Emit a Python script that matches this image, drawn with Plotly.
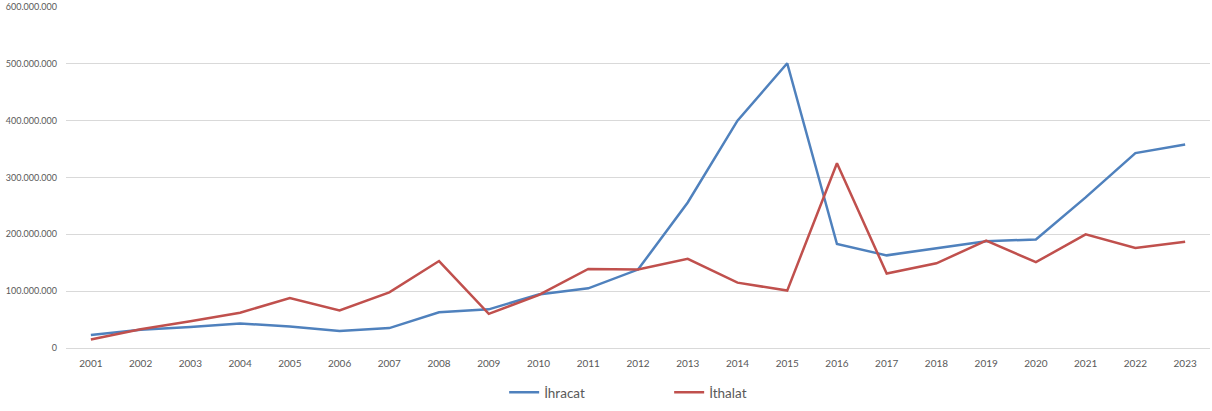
import plotly.graph_objects as go

years = [str(y) for y in range(2001, 2024)]
ihracat = [23e6, 32e6, 37e6, 43e6, 38e6, 30e6, 35e6, 63e6, 68e6, 94e6, 105e6, 138e6,
           256e6, 400e6, 501e6, 183e6, 163e6, 175e6, 188e6, 191e6, 265e6, 343e6, 358e6]
ithalat = [15e6, 33e6, 47e6, 62e6, 88e6, 66e6, 98e6, 153e6, 60e6, 93e6, 139e6, 138e6,
           157e6, 115e6, 101e6, 325e6, 131e6, 149e6, 189e6, 151e6, 200e6, 176e6, 187e6]
y_ticks = [0, 100e6, 200e6, 300e6, 400e6, 500e6, 600e6]

font_family = "Lato, Open Sans, sans-serif"

fig = go.Figure()
fig.add_trace(go.Scatter(x=years, y=ihracat, mode="lines", name="İhracat",
                         line=dict(color="#4F81BD", width=2.5)))
fig.add_trace(go.Scatter(x=years, y=ithalat, mode="lines", name="İthalat",
                         line=dict(color="#C0504D", width=2.5)))

fig.update_layout(
    width=1212, height=411,
    margin=dict(l=66, r=2, t=7, b=63, autoexpand=False),
    paper_bgcolor="white", plot_bgcolor="white",
    separators=",.",
    font=dict(family=font_family, color="#595959", size=10),
    showlegend=True,
    legend=dict(orientation="h", x=0.383, xanchor="left", y=-0.085, yanchor="top",
                font=dict(size=13.5, color="#595959"), entrywidth=120,
                itemwidth=30),
    xaxis=dict(type="category", range=[-0.5, 22.5], showgrid=False,
               showline=True, linecolor="#D9D9D9", linewidth=1, automargin=False,
               ticks="", tickfont=dict(size=10, color="#595959"),
               ticklabelstandoff=6, fixedrange=True),
    yaxis=dict(range=[0, 600e6], tickvals=y_ticks, tickformat=",d", automargin=False,
               showgrid=True, gridcolor="#D9D9D9", gridwidth=1,
               zeroline=False, showline=False, ticks="",
               tickfont=dict(size=9, color="#595959"), ticklabelstandoff=8),
)

fig.write_html("out.html", config={"displayModeBar": False},
               post_script="document.body.style.margin='0';")
